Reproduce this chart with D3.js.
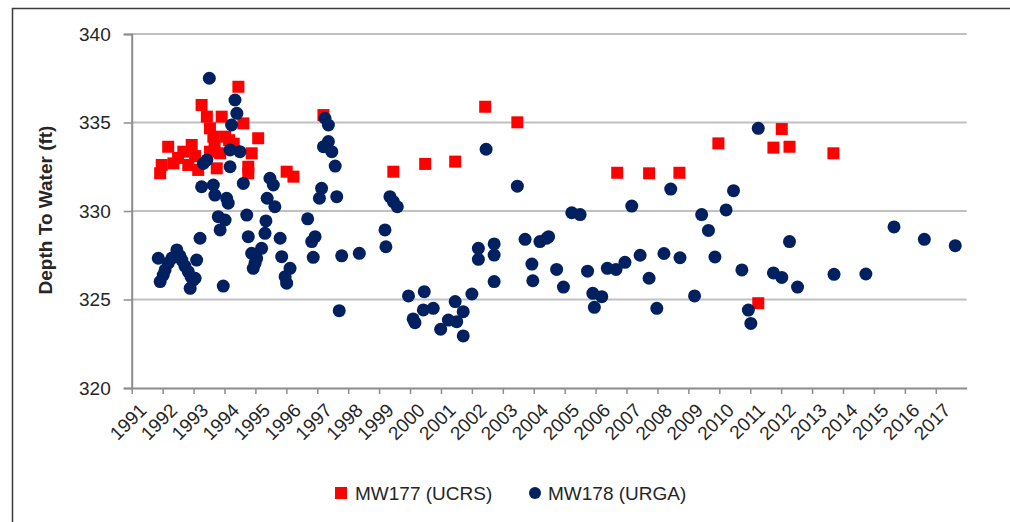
<!DOCTYPE html>
<html>
<head>
<meta charset="utf-8">
<script src="https://cdn.jsdelivr.net/npm/d3@7/dist/d3.min.js"></script>
<style>
  body { margin: 0; background: #fff; }
  svg text { font-family: "Liberation Sans", Arial, sans-serif; fill: #262626; }
</style>
</head>
<body>
<svg id="chart" width="1010" height="522"></svg>
<script>
// MW177 (UCRS) - decimal year / depth to water (ft)
const mw177Year = [1991.92, 1991.97, 1992.18, 1992.35, 1992.67, 1992.83, 1992.94, 1993.15, 1993.26, 1993.43,
  1993.53, 1993.64, 1993.53, 1993.75, 1993.86, 1993.91, 1994.02, 1994.45, 1994.61, 1995.09,
  1994.88, 1994.77, 1994.77, 1996.01, 1996.23, 1997.20, 1999.46, 2000.49, 2001.46, 2002.43,
  2003.47, 2006.70, 2007.73, 2008.71, 2009.97, 2011.26, 2011.75, 2012.02, 2012.27, 2013.69,
  1992.50, 1993.05, 1993.68, 1994.15, 1994.30];
const mw177Depth = [332.13, 332.60, 333.63, 332.69, 333.35, 332.60, 333.73, 332.32, 335.99, 335.33,
  334.67, 334.20, 333.35, 332.41, 333.26, 335.33, 334.20, 337.02, 334.95, 334.11,
  333.26, 332.50, 332.13, 332.22, 331.94, 335.42, 332.22, 332.66, 332.79, 335.89,
  335.01, 332.16, 332.13, 332.16, 333.82, 324.79, 333.58, 334.63, 333.63, 333.26,
  333.00, 333.10, 333.70, 334.00, 333.80];

// MW178 (URGA)
const mw178Year = [1991.86, 1992.46, 1992.30, 1992.18, 1992.08, 1992.02, 1991.92, 1992.56, 1992.62, 1992.72,
  1992.83, 1992.92, 1992.99, 1992.89, 1993.10, 1993.21, 1993.05, 1993.96,
  1993.51, 1994.34, 1994.40, 1994.23, 1994.18, 1994.50, 1993.43, 1993.32, 1994.18, 1994.61,
  1993.26, 1993.64, 1993.69, 1994.07, 1994.12, 1993.80, 1994.02, 1994.72, 1993.86,
  1995.38, 1995.63, 1995.47, 1995.58, 1995.34, 1995.31, 1994.77, 1995.80, 1995.20, 1994.88,
  1995.04, 1994.99, 1994.93, 1995.85, 1996.12, 1995.96, 1996.01,
  1996.69, 1996.93, 1996.82, 1996.87, 1997.25, 1997.36, 1997.36, 1997.20, 1997.47, 1997.58,
  1997.14, 1997.07, 1997.63, 1997.79, 1998.36, 1997.71,
  1999.19, 1999.22, 1999.35, 1999.46, 1999.59, 1999.95, 2000.46, 2000.16, 2000.10, 2000.43,
  2000.75, 2000.99, 2001.24, 2001.46, 2001.51, 2001.72, 2001.72, 2002.00, 2002.21, 2002.21,
  2002.72, 2002.72, 2002.72, 2002.46,
  2003.47, 2003.72, 2003.94, 2003.97, 2004.20, 2004.42, 2004.48, 2004.74, 2004.96, 2005.23,
  2005.50, 2005.74, 2005.91, 2005.96, 2006.20, 2006.38, 2006.66, 2006.95, 2007.17, 2007.44,
  2007.73, 2007.98, 2008.21, 2008.43, 2008.73, 2009.20, 2009.43, 2009.65, 2009.86,
  2010.22, 2010.46, 2010.73, 2010.94, 2011.02, 2011.26, 2011.75, 2012.02, 2012.27, 2012.53,
  2013.71, 2014.74, 2015.65, 2016.63, 2017.63];
const mw178Depth = [327.33, 327.80, 327.34, 327.05, 326.67, 326.38, 326.01, 327.46, 327.23, 326.89,
  326.57, 326.27, 326.10, 325.63, 327.23, 328.46, 326.20, 325.76,
  337.50, 336.27, 335.52, 334.86, 333.45, 333.35, 332.88, 332.69, 332.50, 331.56,
  331.37, 331.47, 330.90, 330.72, 330.44, 329.68, 329.49, 329.77, 328.93,
  330.72, 330.24, 331.85, 331.47, 329.44, 328.74, 328.55, 328.46, 327.89, 327.61,
  327.33, 327.05, 326.76, 327.42, 326.76, 326.29, 325.92,
  329.56, 328.55, 328.27, 327.38, 335.24, 334.86, 333.92, 333.63, 333.35, 332.54,
  331.28, 330.72, 330.81, 327.47, 327.61, 324.37,
  328.93, 327.98, 330.81, 330.53, 330.24, 325.20, 325.44, 323.69, 323.90, 324.41,
  324.50, 323.32, 323.84, 324.88, 323.75, 324.31, 322.94, 325.31, 327.89, 327.27,
  328.14, 327.51, 326.01, 333.49,
  331.40, 328.40, 327.00, 326.06, 328.27, 328.46, 328.55, 326.70, 325.70, 329.90,
  329.80, 326.60, 325.35, 324.56, 325.16, 326.76, 326.70, 327.10, 330.28, 327.50,
  326.20, 324.50, 327.60, 331.24, 327.36, 325.20, 329.80, 328.90, 327.40,
  330.06, 331.15, 326.67, 324.40, 323.65, 334.67, 326.50, 326.25, 328.27, 325.70,
  326.42, 326.44, 329.10, 328.40, 328.04];

const yearTicks = d3.range(1991, 2018);
const depthTicks = [320, 325, 330, 335, 340];
const seriesNames = ['MW177 (UCRS)', 'MW178 (URGA)'];

const svg = d3.select('#chart');

// outer chart frame
svg.append('rect')
    .attr('x', 12.5).attr('y', 8.5)
    .attr('width', 1100).attr('height', 600)
    .attr('fill', 'none')
    .attr('stroke', '#3a3a3a')
    .attr('stroke-width', 1.5);

const x = d3.scaleLinear().domain([1991, 2018]).range([131.7, 966.7]);
const y = d3.scaleLinear().domain([320, 340]).range([388, 34]);

// gridlines
svg.append('g')
    .selectAll('line')
    .data(depthTicks.filter(d => d > 320))
    .enter().append('line')
    .attr('x1', x(1991)).attr('x2', x(2018))
    .attr('y1', d => y(d)).attr('y2', d => y(d))
    .attr('stroke', '#c0c0c0')
    .attr('stroke-width', 2);

// y axis
const yAxis = svg.append('g')
    .attr('transform', 'translate(' + x(1991) + ',0)')
    .call(d3.axisLeft(y).tickValues(depthTicks).tickSize(8).tickPadding(13).tickFormat(d3.format('d')));
yAxis.select('.domain').attr('stroke', '#8c8c8c').attr('stroke-width', 2);
yAxis.selectAll('.tick line').attr('stroke', '#8c8c8c').attr('stroke-width', 1.5);
yAxis.selectAll('.tick text')
    .style('font-size', '19px')
    .style('font-family', '"Liberation Sans", Arial, sans-serif')
    .attr('fill', '#262626');

// x axis
const xAxis = svg.append('g')
    .attr('transform', 'translate(0,' + y(320) + ')')
    .call(d3.axisBottom(x).tickValues(yearTicks).tickSize(6).tickSizeOuter(0).tickFormat(d3.format('d')));
xAxis.select('.domain').attr('stroke', '#8c8c8c').attr('stroke-width', 2);
xAxis.selectAll('.tick line').attr('stroke', '#8c8c8c').attr('stroke-width', 1.5);
xAxis.selectAll('.tick text')
    .style('font-size', '19px')
    .style('font-family', '"Liberation Sans", Arial, sans-serif')
    .attr('fill', '#262626')
    .attr('text-anchor', 'end')
    .attr('dy', '0.7em')
    .attr('y', 0)
    .attr('transform', 'translate(6,14) rotate(-45)');

// y axis title
svg.append('text')
    .attr('transform', 'translate(52,210) rotate(-90)')
    .attr('text-anchor', 'middle')
    .style('font-size', '19px')
    .style('font-weight', 'bold')
    .text('Depth To Water (ft)');

// MW177 squares
const sq = 12;
svg.append('g')
    .selectAll('rect')
    .data(d3.range(mw177Year.length))
    .enter().append('rect')
    .attr('x', i => x(mw177Year[i]) - sq / 2)
    .attr('y', i => y(mw177Depth[i]) - sq / 2)
    .attr('width', sq).attr('height', sq)
    .attr('fill', '#ff0000');

// MW178 circles
svg.append('g')
    .selectAll('circle')
    .data(d3.range(mw178Year.length))
    .enter().append('circle')
    .attr('cx', i => x(mw178Year[i]))
    .attr('cy', i => y(mw178Depth[i]))
    .attr('r', 6.5)
    .attr('fill', '#002060');

// legend
const legend = svg.append('g');
legend.append('rect')
    .attr('x', 335).attr('y', 487)
    .attr('width', 12).attr('height', 12)
    .attr('fill', '#ff0000');
legend.append('text')
    .attr('x', 355).attr('y', 500)
    .style('font-size', '19px')
    .text(seriesNames[0]);
legend.append('circle')
    .attr('cx', 535).attr('cy', 493)
    .attr('r', 6)
    .attr('fill', '#002060');
legend.append('text')
    .attr('x', 548).attr('y', 500)
    .style('font-size', '19px')
    .text(seriesNames[1]);
</script>
</body>
</html>
